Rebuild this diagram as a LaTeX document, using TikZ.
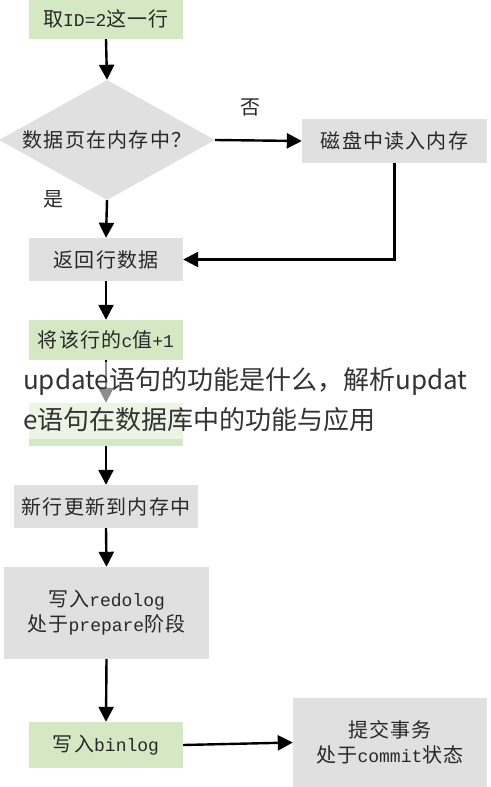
\documentclass[tikz,border=0pt]{standalone}
\usepackage{fontspec}
\setmainfont{Liberation Serif}
\newfontfamily\cjk[LetterSpace=6]{Noto Sans CJK SC}
\newfontfamily\wmfont{Noto Sans CJK SC}
\newfontfamily\lat{Liberation Serif}
\newfontfamily\mono{Liberation Mono}
\newcommand\lt[1]{{\mono\fontsize{18}{25}\selectfont #1}}
\usetikzlibrary{shapes.geometric,arrows.meta}
\definecolor{boxgreen}{RGB}{213,232,196}
\definecolor{boxgray}{RGB}{224,224,224}
\definecolor{txt}{RGB}{40,40,40}
\tikzset{
  stepbox/.style={rectangle, inner sep=0pt, text=txt, font=\cjk\fontsize{20}{25}\selectfont, align=center},
  greenbox/.style={stepbox, fill=boxgreen},
  graybox/.style={stepbox, fill=boxgray},
  flow/.style={line width=2.4pt, draw=black, -{Triangle[length=15pt,width=15pt]}},
  lbl/.style={text=txt, font=\cjk\fontsize{20}{24}\selectfont},
  wmark/.style={text=black!80, font=\wmfont\fontsize{26}{30}\selectfont, anchor=west, inner sep=0pt}
}
\begin{document}
\begin{tikzpicture}[x=1pt,y=-1pt]
\useasboundingbox (0,0) rectangle (490,787);
\fill[white] (0,0) rectangle (490,787);

\node[greenbox, minimum width=154pt, minimum height=41pt] (b1) at (106,18.5) {取\lt{ID=2}这一行};
\node[diamond, fill=boxgray, minimum width=216pt, minimum height=120pt, inner sep=0pt] (dia) at (107,140) {};
\node[lbl] (diat) at (dia.center) {数据页在内存中？};
\node[graybox, minimum width=185pt, minimum height=44pt] (b2) at (394.5,141) {磁盘中读入内存};
\node[graybox, minimum width=154pt, minimum height=43pt] (b3) at (106,259.5) {返回行数据};
\node[greenbox, minimum width=154pt, minimum height=40pt] (b4) at (106,340) {将该行的\lt{c}值\lt{+1}};
\node[greenbox, minimum width=154pt, minimum height=43pt] (b5) at (106,424.5) {};
\node[graybox, minimum width=184pt, minimum height=43pt] (b6) at (106,506.5) {新行更新到内存中};
\node[graybox, minimum width=205pt, minimum height=92pt] (b7) at (106.5,613) {写入\lt{redolog}\\处于\lt{prepare}阶段};
\node[greenbox, minimum width=154pt, minimum height=46pt] (b8) at (106,745) {写入\lt{binlog}};
\node[graybox, minimum width=194pt, minimum height=89pt] (b9) at (390,742.5) {提交事务\\处于\lt{commit}状态};

\node[lbl] (no) at (250,107) {否};
\node[lbl] (yes) at (53,199) {是};

\draw[flow] (b1.south) -- (dia.north);
\draw[flow] (dia.east) -- (b2.west);
\draw[flow] (dia.south) -- (b3.north);
\draw[flow] (b2.south) |- (b3.east);
\draw[flow] (b3.south) -- (b4.north);
\draw[flow] (b4.south) -- (b5.north);
\draw[flow] (b5.south) -- (b6.north);
\draw[flow] (b6.south) -- (b7.north);
\draw[flow] (b7.south) -- (b8.north);
\draw[flow] (b8.east) -- (b9.west);

\fill[white, opacity=0.55] (0,362) rectangle (490,439);
\node[wmark] (w1) at (23,382) {update语句的功能是什么，解析updat};
\node[wmark] (w2) at (23,420) {e语句在数据库中的功能与应用};
\end{tikzpicture}
\end{document}
